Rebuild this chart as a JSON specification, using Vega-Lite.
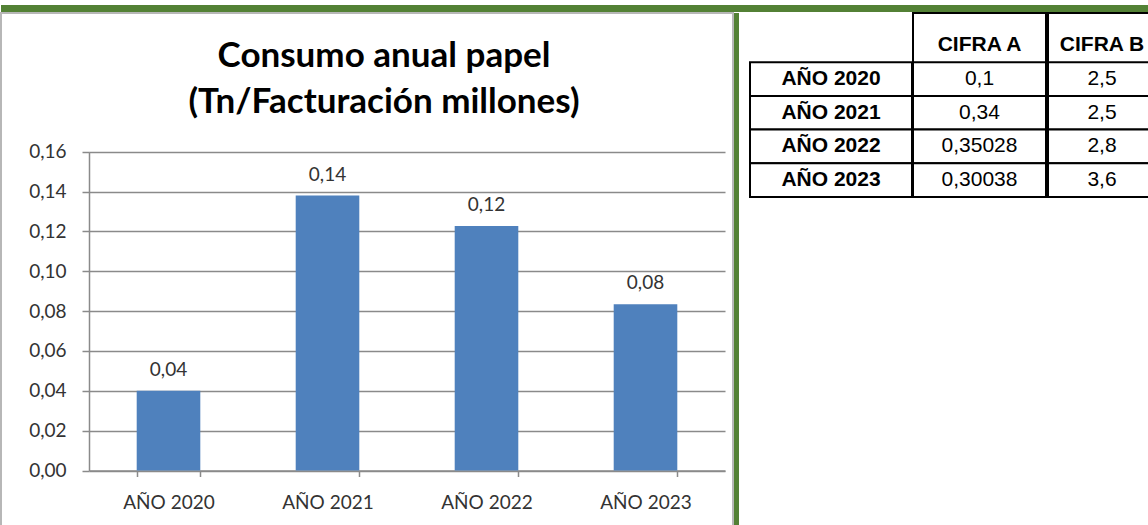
{
  "$schema": "https://vega.github.io/schema/vega-lite/v6.json",
  "padding": {"top": 5, "left": 0, "right": 0, "bottom": 0},
  "background": "white",
  "spacing": 0,
  "datasets": {
    "bars": [
      {"year": "AÑO 2020", "ratio": 0.04},
      {"year": "AÑO 2021", "ratio": 0.138},
      {"year": "AÑO 2022", "ratio": 0.1227},
      {"year": "AÑO 2023", "ratio": 0.0834}
    ],
    "cells": [
      {"year": "AÑO 2020", "col": "CIFRA A", "value": 0.1},
      {"year": "AÑO 2020", "col": "CIFRA B", "value": 2.5},
      {"year": "AÑO 2021", "col": "CIFRA A", "value": 0.34},
      {"year": "AÑO 2021", "col": "CIFRA B", "value": 2.5},
      {"year": "AÑO 2022", "col": "CIFRA A", "value": 0.35028},
      {"year": "AÑO 2022", "col": "CIFRA B", "value": 2.8},
      {"year": "AÑO 2023", "col": "CIFRA A", "value": 0.30038},
      {"year": "AÑO 2023", "col": "CIFRA B", "value": 3.6}
    ],
    "none": []
  },
  "vconcat": [
    {
      "width": 1148,
      "height": 7,
      "view": {"fill": "#538135", "stroke": null},
      "data": {"name": "none"},
      "mark": "text",
      "encoding": {"text": {"value": ""}}
    },
    {
      "spacing": 0,
      "hconcat": [
        {
          "width": 732,
          "height": 513,
          "view": {"fill": "white", "stroke": "#b7b7b7", "strokeWidth": 2},
          "title": {
            "text": ["Consumo anual papel", "(Tn/Facturación millones)"],
            "font": "Lato",
            "fontSize": 35,
            "fontWeight": "bold",
            "color": "#000000",
            "anchor": "middle",
            "frame": "group",
            "lineHeight": 46,
            "offset": -107,
            "dx": 17
          },
          "data": {"name": "bars"},
          "encoding": {
            "x": {
              "field": "year",
              "type": "nominal",
              "sort": null,
              "scale": {"range": [88, 724], "paddingInner": 0.6, "paddingOuter": 0.3},
              "axis": {
                "orient": "bottom",
                "offset": -55.5,
                "title": null,
                "labelAngle": 0,
                "tickBand": "extent",
                "domainColor": "#8a8a8a",
                "domainWidth": 1.5,
                "tickColor": "#8a8a8a",
                "tickWidth": 1.5,
                "tickSize": 6,
                "labelFont": "Lato",
                "labelFontSize": 19,
                "labelColor": "#333333",
                "labelBaseline": "alphabetic",
                "labelPadding": 32,
                "grid": false
              }
            },
            "y": {
              "field": "ratio",
              "type": "quantitative",
              "scale": {"domain": [0, 0.16], "range": [457.5, 138.7], "nice": false, "zero": true},
              "axis": {
                "orient": "left",
                "offset": -88,
                "title": null,
                "values": [0, 0.02, 0.04, 0.06, 0.08, 0.1, 0.12, 0.14, 0.16],
                "format": ".2f",
                "grid": true,
                "gridColor": "#8a8a8a",
                "gridWidth": 1.5,
                "domainColor": "#8a8a8a",
                "domainWidth": 1.5,
                "tickColor": "#8a8a8a",
                "tickWidth": 1.5,
                "tickSize": 7,
                "labelFont": "Lato",
                "labelFontSize": 19,
                "labelColor": "#333333",
                "labelPadding": 16
              }
            }
          },
          "layer": [
            {"mark": {"type": "bar", "color": "#4f81bd"}},
            {
              "mark": {"type": "text", "baseline": "alphabetic", "dy": -15, "font": "Lato", "fontSize": 19, "color": "#333333"},
              "encoding": {"text": {"field": "ratio", "type": "quantitative", "format": ".2f"}}
            }
          ]
        },
        {
          "width": 5,
          "height": 513,
          "view": {"fill": "#538135", "stroke": null},
          "data": {"name": "none"},
          "mark": "text",
          "encoding": {"text": {"value": ""}}
        },
        {
          "spacing": -2,
          "hconcat": [
            {
              "width": 173,
              "height": 184,
              "view": {"stroke": null},
              "data": {"name": "bars"},
              "encoding": {
                "x": {"datum": "label", "type": "nominal", "scale": {"range": [11, 173], "paddingInner": 0, "paddingOuter": 0}, "axis": null},
                "y": {
                  "field": "year",
                  "type": "nominal",
                  "sort": null,
                  "scale": {"range": [0, 184], "paddingInner": 0, "paddingOuter": 0.73, "align": 1},
                  "axis": null
                }
              },
              "layer": [
                {"mark": {"type": "rect", "fill": "white", "stroke": "black", "strokeWidth": 2}},
                {
                  "mark": {"type": "text", "font": "Liberation Sans", "fontSize": 21, "fontWeight": "bold", "color": "black"},
                  "encoding": {"text": {"field": "year", "type": "nominal"}}
                }
              ]
            },
            {
              "width": 133,
              "height": 184,
              "view": {"stroke": "black", "strokeWidth": 2, "fill": "white"},
              "data": {"name": "cells"},
              "transform": [{"filter": "datum.col === 'CIFRA A'"}],
              "encoding": {
                "x": {
                  "field": "col",
                  "type": "nominal",
                  "scale": {"paddingInner": 0, "paddingOuter": 0},
                  "axis": {
                    "orient": "top",
                    "offset": -49,
                    "title": null,
                    "domain": false,
                    "ticks": false,
                    "grid": false,
                    "labelAngle": 0,
                    "labelFont": "Liberation Sans",
                    "labelFontSize": 21,
                    "labelFontWeight": "bold",
                    "labelColor": "black",
                    "labelPadding": 8
                  }
                },
                "y": {
                  "field": "year",
                  "type": "nominal",
                  "sort": null,
                  "scale": {"range": [0, 184], "paddingInner": 0, "paddingOuter": 0.73, "align": 1},
                  "axis": null
                }
              },
              "layer": [
                {"mark": {"type": "rect", "fill": "white", "stroke": "black", "strokeWidth": 2}},
                {
                  "mark": {"type": "text", "font": "Liberation Sans", "fontSize": 21, "color": "black"},
                  "encoding": {"text": {"field": "value", "type": "quantitative", "format": ".6~g"}}
                }
              ]
            },
            {
              "width": 108,
              "height": 184,
              "view": {"stroke": "black", "strokeWidth": 2, "fill": "white"},
              "data": {"name": "cells"},
              "transform": [{"filter": "datum.col === 'CIFRA B'"}],
              "encoding": {
                "x": {
                  "field": "col",
                  "type": "nominal",
                  "scale": {"paddingInner": 0, "paddingOuter": 0},
                  "axis": {
                    "orient": "top",
                    "offset": -49,
                    "title": null,
                    "domain": false,
                    "ticks": false,
                    "grid": false,
                    "labelAngle": 0,
                    "labelFont": "Liberation Sans",
                    "labelFontSize": 21,
                    "labelFontWeight": "bold",
                    "labelColor": "black",
                    "labelPadding": 8
                  }
                },
                "y": {
                  "field": "year",
                  "type": "nominal",
                  "sort": null,
                  "scale": {"range": [0, 184], "paddingInner": 0, "paddingOuter": 0.73, "align": 1},
                  "axis": null
                }
              },
              "layer": [
                {"mark": {"type": "rect", "fill": "white", "stroke": "black", "strokeWidth": 2}},
                {
                  "mark": {"type": "text", "font": "Liberation Sans", "fontSize": 21, "color": "black"},
                  "encoding": {"text": {"field": "value", "type": "quantitative", "format": ".6~g"}}
                }
              ]
            }
          ]
        }
      ]
    }
  ],
  "config": {
    "locale": {"number": {"decimal": ",", "thousands": ".", "grouping": [3], "currency": ["", " €"]}},
    "concat": {"spacing": 0}
  }
}
